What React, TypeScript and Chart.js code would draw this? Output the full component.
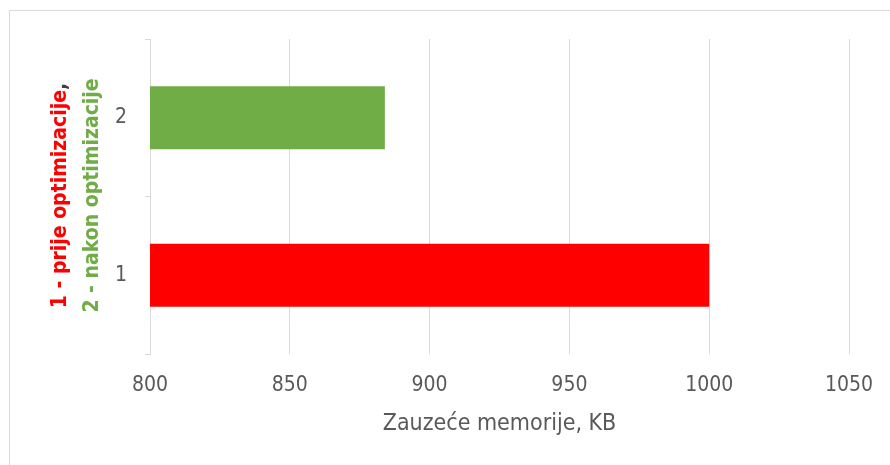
import React, { useEffect, useRef } from "react";
import { Chart, registerables } from "chart.js";

Chart.register(...registerables);

const categories: string[] = ["1", "2"];
const memoryKB: number[] = [1000, 884];
const barColors: string[] = ["#ff0000", "#70ad47"];
const xTitle = "Zauzeće memorije, KB";
const yTitleRed = "1 - prije optimizacije";
const yTitleComma = ",";
const yTitleGreen = "2 - nakon optimizacije";

const FONT = "'DejaVu Sans Condensed', 'Open Sans', sans-serif";

const framePlugin = {
  id: "frameAndTitles",
  beforeDraw(chart: any) {
    const ctx = chart.ctx;
    ctx.save();
    ctx.fillStyle = "#ffffff";
    ctx.fillRect(0, 0, chart.width, chart.height);
    ctx.strokeStyle = "#d9d9d9";
    ctx.lineWidth = 1;
    ctx.beginPath();
    ctx.moveTo(9.5, chart.height);
    ctx.lineTo(9.5, 10.5);
    ctx.lineTo(chart.width, 10.5);
    ctx.stroke();
    ctx.restore();
  },
  afterDraw(chart: any) {
    const ctx = chart.ctx;
    const area = chart.chartArea;
    ctx.save();
    ctx.font = `23px ${FONT}`;
    ctx.fillStyle = "#595959";
    ctx.textAlign = "center";
    ctx.textBaseline = "middle";
    ctx.fillText(xTitle, (area.left + area.right) / 2, 424);
    const cy = (area.top + area.bottom) / 2 - 1;
    ctx.font = `bold 21px ${FONT}`;
    ctx.save();
    ctx.translate(61, cy);
    ctx.rotate(-Math.PI / 2);
    const w1 = ctx.measureText(yTitleRed).width;
    const wc = ctx.measureText(yTitleComma).width;
    const total1 = w1 + wc;
    ctx.textAlign = "left";
    ctx.fillStyle = "#ff0000";
    ctx.fillText(yTitleRed, -total1 / 2, 0);
    ctx.fillStyle = "#404040";
    ctx.fillText(yTitleComma, -total1 / 2 + w1, 0);
    ctx.restore();
    ctx.save();
    ctx.translate(93, cy);
    ctx.rotate(-Math.PI / 2);
    ctx.textAlign = "center";
    ctx.fillStyle = "#70ad47";
    ctx.fillText(yTitleGreen, 0, 0);
    ctx.restore();
    ctx.restore();
  },
};

export default function App() {
  const ref = useRef<HTMLCanvasElement | null>(null);
  useEffect(() => {
    if (!ref.current) return;
    const chart = new Chart(ref.current, {
      type: "bar",
      data: {
        labels: categories,
        datasets: [
          {
            data: memoryKB,
            backgroundColor: barColors,
            borderWidth: 0,
            barPercentage: 0.4,
            categoryPercentage: 1,
          },
        ],
      },
      options: {
        indexAxis: "y",
        animation: false,
        responsive: false,
        layout: { padding: { left: 0, right: 41, top: 39, bottom: 0 } },
        plugins: {
          legend: { display: false },
          tooltip: { enabled: false },
        },
        scales: {
          x: {
            min: 800,
            max: 1050,
            ticks: {
              stepSize: 50,
              color: "#595959",
              font: { family: FONT, size: 21 },
              padding: 19,
              callback: (v: any) => String(v),
            },
            grid: { color: "#d9d9d9", drawTicks: false },
            border: { display: false },
            afterFit(scale: any) {
              scale.height = 111;
              scale.paddingLeft = 0;
              scale.paddingRight = 0;
            },
          },
          y: {
            reverse: true,
            ticks: {
              color: "#595959",
              font: { family: FONT, size: 21 },
              padding: 18,
            },
            grid: {
              color: "#d9d9d9",
              drawOnChartArea: false,
              offset: true,
              tickLength: 5,
            },
            border: { display: true, color: "#d9d9d9" },
            afterFit(scale: any) {
              scale.width = 150;
            },
          },
        },
      },
      plugins: [framePlugin],
    });
    return () => chart.destroy();
  }, []);
  return (
    <div style={{ position: "fixed", left: 0, top: 0, width: 890, height: 465 }}>
      <canvas ref={ref} width={890} height={465} style={{ display: "block" }} />
    </div>
  );
}
